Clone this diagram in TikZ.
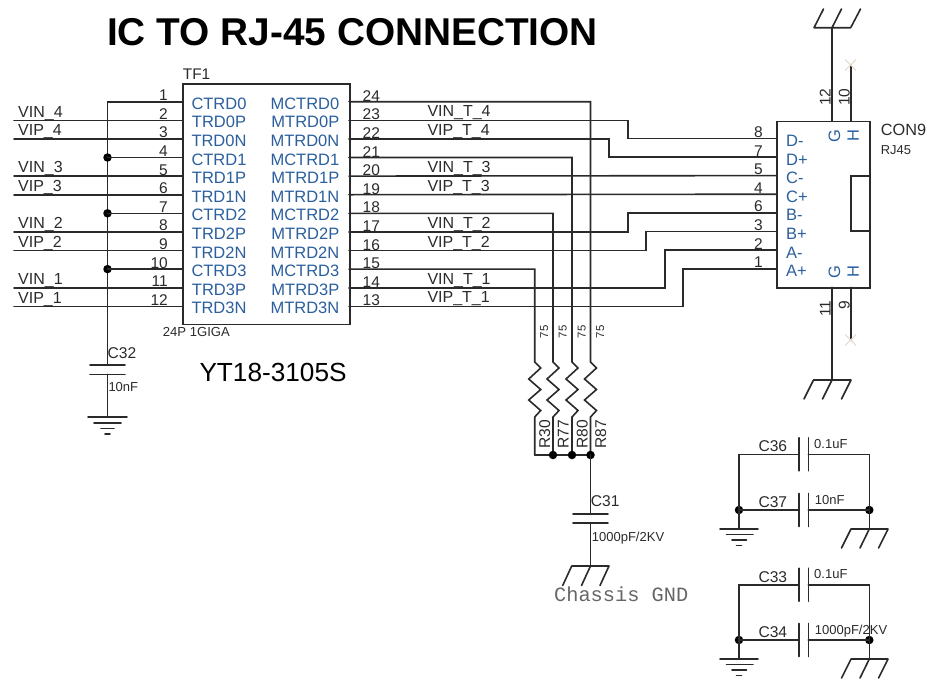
\documentclass[tikz,border=0pt]{standalone}
\usepackage{fontspec}
\setmainfont{Liberation Sans}
\newfontfamily\monof{Liberation Mono}
\definecolor{ink}{HTML}{2A2A2A}
\definecolor{pinblue}{HTML}{2B5F9E}
\definecolor{xmark}{HTML}{E6DCCF}
\newcommand{\fsz}[1]{\fontsize{#1}{#1}\selectfont}
\tikzset{
  wire/.style={draw=ink,line width=1.6pt,line cap=round,line join=miter},
  box/.style={draw=ink,line width=1.6pt,fill=white,rectangle,inner sep=0pt,minimum width=0pt},
  dot/.style={circle,fill=black,draw=none,inner sep=0pt,minimum size=8.5pt},
  pinname/.style={text=pinblue,inner sep=0pt,font=\fsz{16.5}},
  pinnum/.style={text=ink,inner sep=0pt,font=\fsz{15.5}},
  netlab/.style={text=ink,inner sep=0pt,anchor=base west,font=\fsz{16}},
  reflab/.style={text=ink,inner sep=0pt,anchor=base west,font=\fsz{15.6}},
  vallab/.style={text=ink,inner sep=0pt,anchor=base west,font=\fsz{13}},
}
\begin{document}
\begin{tikzpicture}[x=1pt,y=-1pt]
\useasboundingbox (0,0) rectangle (944,691);
% title
\node[inner sep=0pt,anchor=base west,text=black,font=\bfseries\fsz{38.8}] (title) at (107,45.5) {IC TO RJ-45 CONNECTION};
% transformer
\node[box,anchor=north west,minimum width=167pt,minimum height=240.5pt] (TF) at (182,83) {};
\node[inner sep=0pt,anchor=base west,text=ink,font=\fsz{15.4}] (tfref) at (182.7,79) {TF1};
\node[inner sep=0pt,anchor=base west,text=ink,font=\fsz{13.1}] (tfval) at (162.7,336.7) {24P 1GIGA};
\node[inner sep=0pt,anchor=base west,text=black,font=\fsz{26.2}] (part) at (199.3,381.7) {YT18-3105S};
% pin coordinates and labels
\foreach \k/\ln/\rn/\rp [evaluate=\k as \yy using 101.7+(\k-1)*18.6] in
 {1/CTRD0/MCTRD0/24,2/TRD0P/MTRD0P/23,3/TRD0N/MTRD0N/22,4/CTRD1/MCTRD1/21,5/TRD1P/MTRD1P/20,6/TRD1N/MTRD1N/19,7/CTRD2/MCTRD2/18,8/TRD2P/MTRD2P/17,9/TRD2N/MTRD2N/16,10/CTRD3/MCTRD3/15,11/TRD3P/MTRD3P/14,12/TRD3N/MTRD3N/13}{
  \coordinate (L\k) at (182,\yy);
  \coordinate (R\rp) at (349,\yy);
  \coordinate (F\k) at (14,\yy);
  \node[pinname,anchor=base] (ln\k) at (219,\yy+7.6) {\ln};
  \node[pinname,anchor=base east] (rn\k) at (339.5,\yy+7.6) {\rn};
  \node[pinnum,anchor=base east] (lp\k) at (168,\yy-1) {\k};
  \node[pinnum,anchor=base west] (rp\k) at (362.5,\yy-0.5) {\rp};
}
% left common bus
\coordinate (bus) at (107.5,101.7);
\coordinate (c32top) at (107.5,365);
\draw[wire] (L1) -- (bus) -- (c32top);
\foreach \k in {4,7,10}{
  \node[dot] (bd\k) at (107.5,{101.7+(\k-1)*18.6}) {};
  \draw[wire] (L\k) -- (bd\k.center);
}
% left signals
\foreach \k/\t in {2/VIN_4,3/VIP_4,5/VIN_3,6/VIP_3,8/VIN_2,9/VIP_2,11/VIN_1,12/VIP_1}{
  \draw[wire] (F\k) -- (L\k);
  \node[netlab] (n\k) at (18,{101.7+(\k-1)*18.6-3.2}) {\detokenize\expandafter{\t}};
}
% right net labels
\foreach \k/\t in {23/VIN_T_4,22/VIP_T_4,20/VIN_T_3,19/VIP_T_3,17/VIN_T_2,16/VIP_T_2,14/VIN_T_1,13/VIP_T_1}{
  \node[netlab] (m\k) at (427.3,{101.7+(24-\k)*18.6-3.5}) {\detokenize\expandafter{\t}};
}
% connector
\node[box,anchor=north west,minimum width=93pt,minimum height=166.6pt] (CON) at (776,120.7) {};
\coordinate (n1) at (869,175.7); \coordinate (n2) at (850.7,175.7);
\coordinate (n3) at (850.7,231); \coordinate (n4) at (869,231);
\draw[wire] (n1) -- (n2) -- (n3) -- (n4);
\node[inner sep=0pt,anchor=base west,text=ink,font=\fsz{16.3}] (conref) at (880.7,135) {CON9};
\node[inner sep=0pt,anchor=base west,text=ink,font=\fsz{12.9}] (conval) at (880.7,154.3) {RJ45};
\foreach \n/\lab/\num/\yy in {8/D-/8/138.3,7/D+/7/157,5/C-/5/175.6,4/C+/4/194.2,6/B-/6/212.9,3/B+/3/231.5,2/A-/2/250.1,1/A+/1/268.7}{
  \coordinate (P\n) at (776,\yy);
  \node[pinname,anchor=base west] (pn\n) at (786,\yy+8) {\lab};
  \node[pinnum,anchor=base east] (pl\n) at (763,\yy-1) {\num};
}
% straight and jogged nets
\draw[wire] (R23) -| (627.7,138.3) -- (P8);
\draw[wire] (R22) -| (609,157) -- (P7);
\draw[wire] (R20) -- (P5);
\draw[wire] (R19) -- (P4);
\draw[wire] (R17) -| (627.7,212.9) -- (P6);
\draw[wire] (R16) -| (646,231.5) -- (P3);
\draw[wire] (R14) -| (665,250.1) -- (P2);
\draw[wire] (R13) -| (683,268.7) -- (P1);
% resistors
\foreach \rr/\xx/\pin in {R30/534.7/15,R77/553/18,R80/572/21,R87/590.5/24}{
  \coordinate (\rr t) at (\xx,362);
  \coordinate (\rr b) at (\xx,417);
  \coordinate (\rr e) at (\xx,455);
  \draw[wire] (R\pin) -| (\rr t) -- ++(6,6) -- ++(-12,11) -- ++(12,10.5) -- ++(-12,10.5) -- ++(12,10.5) -- (\rr b) -- (\rr e);
  \node[inner sep=0pt,rotate=90,anchor=base west,text=ink,font=\fsz{11.4}] (\rr v) at (\xx+13.5,338.5) {75};
  \node[inner sep=0pt,rotate=90,anchor=base west,text=ink,font=\fsz{15.6}] (\rr l) at (\xx+15.5,448.5) {\rr};
}
\draw[wire] (R30e) -- (R87e);
\node[dot] (jA) at (R77e) {};
\node[dot] (jB) at (R80e) {};
\node[dot] (jC) at (R87e) {};
% C31
\coordinate (c31t) at (590.5,514);
\coordinate (c31b) at (590.5,523);
\coordinate (cg) at (590.5,566);
\draw[wire] (jC.center) -- (c31t);
\draw[wire] (c31b) -- (cg);
\draw[wire] (573,514) -- (608,514);
\draw[wire] (573,523) -- (608,523);
\node[reflab] (c31r) at (590.7,506.7) {C31};
\node[vallab] (c31v) at (591.7,541.7) {1000pF/2KV};
\draw[wire] (571.7,566) -- (609,566) (571.7,566) -- (562.7,585.5) (590.5,566) -- (581.5,585.5) (609,566) -- (600,585.5);
\node[inner sep=0pt,anchor=base west,text=black!60,font=\monof\fsz{20.3}] (cgnd) at (554,601.7) {Chassis GND};
% C32
\draw[wire] (90,365) -- (125,365);
\draw[wire] (90,374.3) -- (125,374.3);
\draw[wire] (107.5,374.3) -- (107.5,417);
\draw[wire] (88,417) -- (127,417) (94,423) -- (121,423) (101,428.5) -- (114,428.5) (105,434) -- (110,434);
\node[reflab] (c32r) at (107.5,358.3) {C32};
\node[vallab] (c32v) at (108.3,391.7) {10nF};
% RJ45 shield pins
\draw[wire] (832,120.7) -- (832,27.7);
\draw[wire] (850.7,120.7) -- (850.7,65);
\draw[wire] (832,287.3) -- (832,380);
\draw[wire] (850.7,287.3) -- (850.7,340);
\draw[wire] (814,27.7) -- (850.7,27.7) (814,27.7) -- (823.5,9) (832,27.7) -- (841.5,9) (850.7,27.7) -- (860.5,9);
\draw[wire] (813.5,380) -- (851,380) (813.5,380) -- (804,399) (832,380) -- (822.5,399) (851,380) -- (841.5,399);
\draw[draw=xmark,line width=1.1pt] (845.2,59.5) -- (856.2,70.5) (845.2,70.5) -- (856.2,59.5);
\draw[draw=xmark,line width=1.1pt] (845.2,334.5) -- (856.2,345.5) (845.2,345.5) -- (856.2,334.5);
\foreach \t/\xx/\yy in {12/830.5/106,10/849.5/106,11/830.5/317,9/849.5/309.5}{
  \node[pinnum,rotate=90,anchor=base west] (sp\t) at (\xx,\yy) {\t};
}
\foreach \t/\xx/\yy in {G/840/136,H/858.8/136,G/840/271.7,H/858.8/271.7}{
  \node[pinname,rotate=90,anchor=base] at (\xx,\yy) {\t};
}
% capacitor pairs
\foreach \ya/\yb/\ra/\va/\rb/\vb/\id in {454.3/510/C36/0.1uF/C37/10nF/u,584.7/640/C33/0.1uF/C34/1000pF\slash 2KV/v}{
  \coordinate (\id tl) at (739,\ya);
  \coordinate (\id tr) at (869.3,\ya);
  \node[dot] (\id bl) at (739,\yb) {};
  \node[dot] (\id br) at (869.3,\yb) {};
  \coordinate (\id p1) at (799,\ya); \coordinate (\id p2) at (808.3,\ya);
  \coordinate (\id p3) at (799,\yb); \coordinate (\id p4) at (808.3,\yb);
  \draw[wire] (\id bl.center) -- (\id tl) -- (\id p1);
  \draw[wire] (\id p2) -- (\id tr) -- (\id br.center);
  \draw[wire] (\id bl.center) -- (\id p3);
  \draw[wire] (\id p4) -- (\id br.center);
  \draw[wire] (799,\ya-16.5) -- (799,\ya+16.5) (808.3,\ya-16.5) -- (808.3,\ya+16.5);
  \draw[wire] (799,\yb-16.5) -- (799,\yb+16.5) (808.3,\yb-16.5) -- (808.3,\yb+16.5);
  \node[reflab] at (758.3,\ya-2.6) {\ra};
  \node[reflab] at (758.3,\yb-2.7) {\rb};
  \node[vallab] at (814,\ya-6) {\va};
  \node[vallab] at (814.7,\yb-6) {\vb};
  % ground
  \draw[wire] (\id bl.center) -- (739,\yb+19);
  \draw[wire] (720,\yb+19) -- (758,\yb+19) (726.5,\yb+24.5) -- (753,\yb+24.5) (732,\yb+30) -- (746.5,\yb+30) (736.5,\yb+35.5) -- (741.5,\yb+35.5);
  % chassis
  \draw[wire] (\id br.center) -- (869.3,\yb+19);
  \draw[wire] (851,\yb+19) -- (888,\yb+19) (851,\yb+19) -- (841.5,\yb+38) (869.3,\yb+19) -- (860,\yb+38) (888,\yb+19) -- (878.5,\yb+38);
}
\end{tikzpicture}
\end{document}
